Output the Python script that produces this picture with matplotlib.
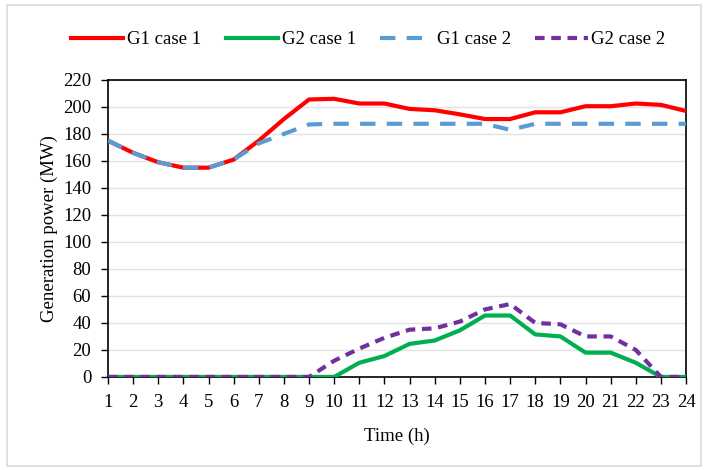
import matplotlib.pyplot as plt
from matplotlib.patches import Rectangle

# Données
heures = list(range(1, 25))
g1_cas1 = [175, 166, 159, 155, 155, 161, 175, 191, 205.5, 206, 202.5, 202.5,
           198.5, 197.5, 194.5, 191, 191, 196, 196, 200.5, 200.5, 202.5, 201.5, 197]
g2_cas1 = [0, 0, 0, 0, 0, 0, 0, 0, 0, 0, 10.5, 15.5,
           24.5, 27, 34.5, 45.5, 45.5, 31.5, 30, 18, 18, 10.5, 0, 0]
g1_cas2 = [175, 166, 159, 155, 155, 161, 173, 180, 187, 187.5, 187.5, 187.5,
           187.5, 187.5, 187.5, 187.5, 183, 187.5, 187.5, 187.5, 187.5, 187.5, 187.5, 187.5]
g2_cas2 = [0, 0, 0, 0, 0, 0, 0, 0, 0, 12, 21, 29,
           35, 36, 41, 50, 54, 40, 39, 30, 30, 20, 0, 0]

plt.rcParams['font.family'] = ['Liberation Serif', 'DejaVu Serif']

fig = plt.figure(figsize=(7.08, 4.70), dpi=100)
ax = fig.add_axes([0.1525, 0.198, 0.8165, 0.632])

# cadre gris autour de la figure
fig.patches.append(Rectangle((0.01, 0.008), 0.98, 0.982, transform=fig.transFigure,
                             fill=False, edgecolor='#D9D9D9', linewidth=1.2))

ax.plot(heures, g1_cas1, color='#FF0000', lw=3, label='G1 case 1', zorder=3)
ax.plot(heures, g2_cas1, color='#00B050', lw=3, label='G2 case 1', zorder=3)
ax.plot(heures, g1_cas2, color='#5B9BD5', lw=3, dashes=(3.7, 2.7), label='G1 case 2', zorder=4)
ax.plot(heures, g2_cas2, color='#7030A0', lw=3, dashes=(2.3, 1.6), label='G2 case 2', zorder=4)

ax.set_xlim(1, 24)
ax.set_ylim(0, 220)
ax.set_xticks(heures)
ax.set_yticks(range(0, 221, 20))
ax.grid(axis='y', color='#E3E3E3', lw=1)
ax.set_axisbelow(True)
for s in ax.spines.values():
    s.set_linewidth(1.2)
    s.set_color('black')
ax.tick_params(axis='both', labelsize=13.5, direction='out', length=5, width=1)
ax.tick_params(axis='x', pad=7)
ax.tick_params(axis='y', pad=7)

ax.set_xlabel('Time (h)', fontsize=13.5, labelpad=12)
ax.set_ylabel('Generation power (MW)', fontsize=13.5, labelpad=4)

fig.legend(loc='upper center', bbox_to_anchor=(0.52, 0.97), ncol=4, frameon=False,
           fontsize=13.5, handlelength=2.8, columnspacing=1.3, handletextpad=0.2)

fig.savefig('out.png', dpi=100)
